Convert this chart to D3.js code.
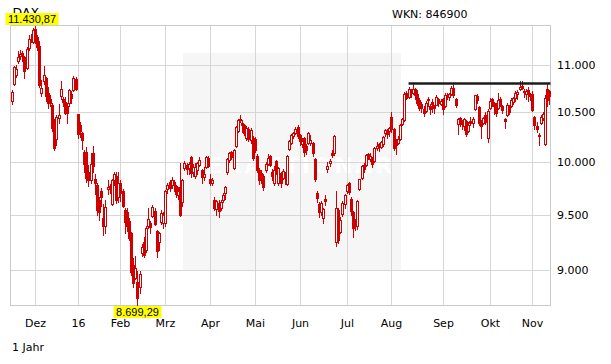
<!DOCTYPE html>
<html>
<head>
<meta charset="utf-8">
<script src="https://cdn.jsdelivr.net/npm/d3@7"></script>
<style>
  body { margin: 0; background: #fff; }
  text { font-family: "DejaVu Sans", Verdana, sans-serif; }
</style>
</head>
<body>
<div id="chart"></div>
<script>
// DAX daily candles, one array per month: [open, high, low, close]
var nov15 = [
  [10620,10730,10590,10713],[10800,10990,10780,10971],[10890,11000,10870,10959],[11040,11150,11020,11085],
  [11090,11160,11060,11119],[11130,11150,11040,11092],[11080,11090,10860,10934],[10960,11190,10950,11170],
  [11180,11320,11160,11285],[11290,11340,11250,11293],[11250,11400,11240,11382]
];
var dez15 = [
  [11390,11430.87,11240,11261],[11300,11330,11160,11190],[11200,11260,10760,10789],[10700,10840,10670,10752],
  [10830,10990,10800,10886],[10860,10870,10620,10673],[10700,10760,10540,10592],[10640,10680,10560,10598],
  [10570,10600,10310,10340],[10400,10430,10120,10139],[10225,10470,10170,10450],[10440,10590,10390,10470],
  [10670,10830,10640,10738],[10640,10660,10560,10608],[10610,10660,10480,10497],[10560,10600,10390,10488],
  [10600,10745,10560,10727],[10690,10720,10600,10653],[10730,10880,10720,10860],[10850,10870,10730,10743]
];
var jan16 = [
  [10485,10485,10240,10283],[10370,10400,10250,10310],[10290,10300,10130,10214],[10100,10120,9900,9979],
  [10100,10150,9810,9849],[9900,9970,9770,9825],[9830,10090,9800,9985],[10090,10160,9900,9960],
  [9840,9885,9690,9794],[9780,9800,9500,9545],[9640,9660,9450,9521],[9720,9750,9580,9664],
  [9470,9600,9310,9391],[9390,9640,9330,9574],[9740,9830,9690,9764],[9770,9790,9700,9737],
  [9600,9840,9590,9822],[9830,9900,9780,9880],[9870,9900,9610,9639],[9660,9900,9620,9798]
];
var feb16 = [
  [9800,9830,9630,9700],[9720,9740,9570,9581],[9540,9560,9330,9434],[9520,9560,9350,9393],
  [9440,9470,9270,9286],[9330,9340,8950,8979],[9040,9100,8850,8880],[8930,9125,8920,9017],
  [8890,8990,8699.29,8752],[8850,8990,8800,8967],[9150,9230,9120,9206],[9250,9290,9110,9135],
  [9180,9390,9160,9377],[9390,9565,9380,9463],[9420,9440,9330,9388],[9490,9590,9480,9574],
  [9530,9560,9400,9416],[9350,9360,9110,9167],[9250,9340,9180,9331],[9430,9540,9410,9513],
  [9420,9520,9380,9495]
];
var mrz16 = [
  [9420,9730,9390,9717],[9740,9800,9700,9776],[9810,9830,9720,9751],[9780,9860,9750,9824],
  [9810,9830,9720,9778],[9770,9780,9660,9692],[9680,9760,9650,9723],[9760,9995,9490,9498],
  [9620,9840,9580,9831],[9940,10010,9920,9990],[9970,9990,9880,9933],[9940,10000,9880,9983],
  [10050,10060,9860,9892],[9900,9980,9870,9950],[9870,9990,9850,9948],[9920,10000,9880,9990],
  [9970,10050,9960,10022],[9920,9930,9800,9851],[9860,9950,9830,9887],[9950,10060,9940,10046],
  [10040,10060,9950,9966]
];
var apr16 = [
  [9840,9880,9780,9794],[9800,9850,9780,9822],[9640,9660,9540,9563],[9550,9640,9500,9624],
  [9610,9640,9480,9530],[9560,9640,9540,9622],[9640,9700,9620,9682],[9700,9770,9650,9761],
  [9900,10040,9880,10027],[10020,10100,10000,10094],[10100,10110,10030,10051],[9940,10130,9930,10120],
  [10160,10360,10150,10350],[10310,10430,10300,10421],[10420,10475,10400,10435],[10390,10420,10300,10373],
  [10370,10380,10270,10294],[10240,10360,10220,10340],[10330,10350,10210,10230],[10220,10340,10190,10321],
  [10240,10260,10020,10039]
];
var mai16 = [
  [10230,10250,10100,10123],[10060,10080,9900,9926],[9920,9940,9790,9828],[9890,9920,9800,9852],
  [9870,9880,9730,9760],[9920,10000,9900,9980],[9985,10080,9970,10045],[10060,10070,9960,9975],
  [9900,9930,9830,9862],[9800,9960,9780,9920],[10010,10020,9880,9890],[9800,9950,9780,9943],
  [9890,9900,9760,9796],[9850,9930,9840,9916],[9890,9900,9790,9842],[9790,10070,9780,10057],
  [10130,10220,10120,10205],[10190,10280,10180,10272],[10260,10300,10240,10287],[10290,10350,10280,10334],
  [10350,10370,10240,10263]
];
var jun16 = [
  [10265,10280,10170,10205],[10180,10240,10150,10208],[10240,10250,10060,10103],[10160,10180,10080,10121],
  [10190,10300,10180,10287],[10190,10270,10170,10217],[10185,10200,10060,10088],[10030,10040,9820,9834],
  [9705,9720,9620,9657],[9600,9620,9480,9519],[9520,9630,9500,9606],[9465,9560,9425,9550],
  [9650,9680,9590,9631],[9930,10000,9900,9962],[9990,10030,9960,10015],[10090,10120,10050,10071],
  [10090,10270,10070,10257],[9250,9720,9214,9557],[9540,9560,9240,9268],[9340,9480,9330,9447],
  [9505,9630,9490,9612],[9600,9690,9560,9680]
];
var jul16 = [
  [9725,9790,9700,9776],[9800,9810,9690,9709],[9650,9660,9500,9532],[9520,9530,9290,9373],
  [9445,9460,9360,9419],[9390,9640,9370,9629],[9740,9840,9730,9833],[9845,9970,9840,9964],
  [9970,9990,9900,9930],[9970,10080,9960,10068],[10080,10090,10030,10066],[10030,10090,10010,10063],
  [10040,10050,9950,9981],[10015,10150,10000,10142],[10140,10200,10120,10157],[10180,10190,10110,10147],
  [10150,10210,10140,10198],[10180,10260,10160,10247],[10290,10330,10260,10319],[10320,10330,10240,10275],
  [10310,10350,10260,10337]
];
var aug16 = [
  [10450,10500,10300,10330],[10330,10340,10120,10144],[10220,10230,10080,10170],[10190,10260,10180,10228],
  [10225,10380,10220,10367],[10385,10440,10370,10432],[10420,10710,10410,10693],[10700,10720,10640,10651],
  [10660,10760,10650,10742],[10700,10740,10660,10713],[10700,10802,10690,10739],[10740,10750,10640,10677],
  [10690,10730,10580,10600],[10630,10650,10520,10545],[10590,10610,10500,10544],[10530,10560,10460,10494],
  [10510,10620,10500,10593],[10640,10660,10560,10623],[10560,10590,10480,10529],[10610,10640,10500,10587],
  [10570,10580,10490,10544],[10580,10680,10570,10657],[10640,10650,10560,10593],[10590,10640,10570,10620]
];
var sep16 = [
  [10640,10650,10480,10534],[10560,10700,10550,10684],[10670,10700,10640,10672],[10660,10700,10630,10687],
  [10690,10770,10680,10752],[10750,10790,10660,10675],[10640,10650,10550,10573],[10380,10440,10280,10432],
  [10440,10450,10360,10386],[10410,10420,10330,10379],[10360,10440,10320,10431],[10410,10420,10260,10276],
  [10310,10400,10300,10373],[10410,10450,10370,10394],[10390,10450,10350,10436],[10530,10680,10520,10674],
  [10670,10690,10600,10626],[10550,10560,10370,10394],[10400,10420,10240,10361],[10390,10450,10380,10438],
  [10470,10500,10380,10405],[10240,10530,10200,10511]
];
var okt16 = [
  [10540,10650,10530,10619],[10640,10650,10560,10585],[10600,10610,10480,10568],[10590,10600,10460,10490],
  [10540,10700,10530,10624],[10640,10660,10560,10577],[10560,10580,10490,10524],[10430,10440,10340,10414],
  [10470,10600,10460,10580],[10560,10570,10480,10504],[10560,10650,10550,10631],[10610,10660,10590,10645],
  [10650,10720,10620,10701],[10690,10730,10640,10711],[10740,10827,10730,10761],[10770,10828,10740,10757],
  [10720,10740,10660,10709],[10690,10740,10640,10717],[10730,10760,10620,10696],[10690,10700,10630,10665]
];
var nov16 = [
  [10690,10720,10510,10526],[10450,10460,10330,10370],[10360,10400,10300,10325],[10270,10290,10170,10259],
  [10390,10470,10380,10456],[10440,10500,10420,10482],[10180,10680,10174,10646],[10740,10800,10560,10630],
  [10720,10730,10590,10668]
];

var months = [nov15, dez15, jan16, feb16, mrz16, apr16, mai16, jun16, jul16, aug16, sep16, okt16, nov16];
var monthLabels = ["", "Dez", "16", "Feb", "Mrz", "Apr", "Mai", "Jun", "Jul", "Aug", "Sep", "Okt", "Nov"];
var yTicks = [9000, 9500, 10000, 10500, 11000];
var resistance = 10800;      // drawn line
var resistanceFrom = 186;    // candle index where it starts

var svgWidth = 611, svgHeight = 364;
var plot = {left: 10.5, right: 550.5, top: 25.5, bottom: 305.5};
var red = "#d10000";

var candles = [].concat.apply([], months);
var monthFirst = [];
var n = 0;
months.forEach(function(m) { monthFirst.push(n); n += m.length; });

var loc = d3.formatLocale({decimal: ",", thousands: ".", grouping: [3], currency: ["", " €"]});
var fmtTick = loc.format(",");
var fmtPrice = loc.format(",.2f");

var svg = d3.select("#chart").append("svg")
    .attr("width", svgWidth)
    .attr("height", svgHeight);

svg.append("rect").attr("width", svgWidth).attr("height", svgHeight).attr("fill", "#fff");

var x = d3.scaleLinear().domain([0, candles.length]).range([plot.left, plot.right]);
var y = d3.scaleLog()
    .domain([d3.min(candles, d => d[2]), d3.max(candles, d => d[1])])
    .range([plot.bottom - 1, plot.top]);

function cx(i) { return Math.round(x(i + 0.5)); }
function crisp(v) { return Math.round(v) + 0.5; }

// watermark panel
svg.append("rect")
    .attr("x", 183).attr("y", 53).attr("width", 218).attr("height", 217)
    .attr("fill", "#f6f6f6");
svg.append("text")
    .attr("x", 186).attr("y", 173)
    .attr("textLength", 206).attr("lengthAdjust", "spacing")
    .style("font-size", "22px").style("font-weight", "bold")
    .attr("fill", "#fff")
    .text("DERAKTIONÄR");

// grid
var grid = svg.append("g").attr("stroke", "#d6d6d6").attr("stroke-width", 1);
yTicks.forEach(function(t) {
  grid.append("line")
      .attr("x1", plot.left).attr("x2", plot.right)
      .attr("y1", crisp(y(t))).attr("y2", crisp(y(t)));
});
monthFirst.forEach(function(i, m) {
  if (!monthLabels[m]) return;
  grid.append("line")
      .attr("x1", cx(i) + 0.5).attr("x2", cx(i) + 0.5)
      .attr("y1", plot.top).attr("y2", plot.bottom);
});

svg.append("rect")
    .attr("x", plot.left).attr("y", plot.top)
    .attr("width", plot.right - plot.left).attr("height", plot.bottom - plot.top)
    .attr("fill", "none").attr("stroke", "#cbcbcb");

// candles
var cg = svg.append("g");
candles.forEach(function(d, i) {
  var px = cx(i);
  var top = Math.round(y(Math.max(d[0], d[3])));
  var bot = Math.round(y(Math.min(d[0], d[3])));
  cg.append("line")
      .attr("x1", px + 0.5).attr("x2", px + 0.5)
      .attr("y1", Math.round(y(d[1]))).attr("y2", Math.round(y(d[2])) + 1)
      .attr("stroke", red).attr("stroke-width", 1);
  if (d[3] >= d[0]) {
    cg.append("rect")
        .attr("x", px - 0.5).attr("y", top + 0.5)
        .attr("width", 2).attr("height", Math.max(0, bot - top))
        .attr("fill", "#fff").attr("stroke", red).attr("stroke-width", 1);
  } else {
    cg.append("rect")
        .attr("x", px - 1).attr("y", top)
        .attr("width", 3).attr("height", Math.max(1, bot - top + 1))
        .attr("fill", red);
  }
});

// drawn resistance line
svg.append("line")
    .attr("x1", x(resistanceFrom + 0.5)).attr("x2", plot.right)
    .attr("y1", y(resistance)).attr("y2", y(resistance))
    .attr("stroke", "#1c1c1c").attr("stroke-width", 2.4);

// axis labels
svg.append("g").selectAll("text")
    .data(yTicks).enter().append("text")
    .attr("x", 557).attr("y", d => y(d) + 4)
    .style("font-size", "11px").attr("fill", "#000")
    .text(d => fmtTick(d));

svg.append("g").selectAll("text")
    .data(monthFirst.map((i, m) => ({i: i, label: monthLabels[m]})).filter(d => d.label))
    .enter().append("text")
    .attr("x", d => cx(d.i) + 0.5).attr("y", 327)
    .attr("text-anchor", "middle")
    .style("font-size", "11px").attr("fill", "#000")
    .text(d => d.label);

svg.append("text").attr("x", 12).attr("y", 351).style("font-size", "11px").text("1 Jahr");
svg.append("text").attr("x", 12.5).attr("y", 16.5).style("font-size", "12.5px").text("DAX");
svg.append("text").attr("x", 392).attr("y", 17.5).style("font-size", "11px").text("WKN: 846900");

// yellow high / low tags
function priceTag(value, i, yTop, shift) {
  var g = svg.append("g");
  var t = g.append("text")
      .attr("x", cx(i) + 0.5 + shift).attr("y", yTop + 10)
      .attr("text-anchor", "middle")
      .style("font-family", "'Liberation Sans', Arial, sans-serif").style("font-size", "11px")
      .attr("fill", "#000")
      .text(fmtPrice(value));
  var bb = t.node().getBBox();
  g.insert("rect", "text")
      .attr("x", bb.x - 2.5).attr("y", yTop)
      .attr("width", bb.width + 5).attr("height", 12)
      .attr("fill", "#ffff00");
}
var hiIdx = d3.maxIndex(candles, d => d[1]);
var loIdx = d3.minIndex(candles, d => d[2]);
priceTag(candles[hiIdx][1], hiIdx, 13, -3.5);
priceTag(candles[loIdx][2], loIdx, 306, 0);
</script>
</body>
</html>
